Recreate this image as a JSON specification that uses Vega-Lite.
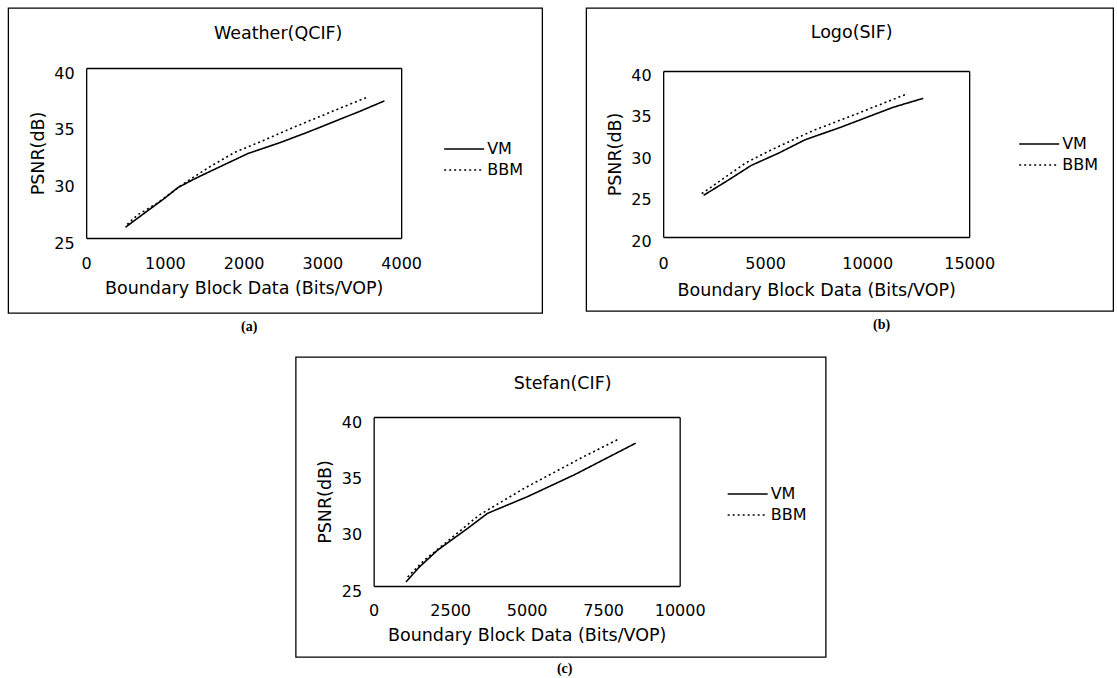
{
  "$schema": "https://vega.github.io/schema/vega-lite/v6.json",
  "background": "white",
  "padding": {"left": 7, "top": 7, "right": 0, "bottom": 0},
  "datasets": {
    "d": [
      {"p": "a", "s": "VM", "x": 499, "y": 25.95},
      {"p": "a", "s": "VM", "x": 741, "y": 27.2},
      {"p": "a", "s": "VM", "x": 995, "y": 28.5},
      {"p": "a", "s": "VM", "x": 1164, "y": 29.45},
      {"p": "a", "s": "VM", "x": 1400, "y": 30.3},
      {"p": "a", "s": "VM", "x": 1672, "y": 31.2},
      {"p": "a", "s": "VM", "x": 2053, "y": 32.45},
      {"p": "a", "s": "VM", "x": 2455, "y": 33.4},
      {"p": "a", "s": "VM", "x": 2800, "y": 34.3},
      {"p": "a", "s": "VM", "x": 3196, "y": 35.4},
      {"p": "a", "s": "VM", "x": 3500, "y": 36.25},
      {"p": "a", "s": "VM", "x": 3788, "y": 37.1},
      {"p": "a", "s": "BBM", "x": 521, "y": 26.2},
      {"p": "a", "s": "BBM", "x": 656, "y": 27.05},
      {"p": "a", "s": "BBM", "x": 910, "y": 28.1},
      {"p": "a", "s": "BBM", "x": 1228, "y": 29.75},
      {"p": "a", "s": "BBM", "x": 1550, "y": 31.2},
      {"p": "a", "s": "BBM", "x": 1884, "y": 32.55},
      {"p": "a", "s": "BBM", "x": 2250, "y": 33.6},
      {"p": "a", "s": "BBM", "x": 2646, "y": 34.8},
      {"p": "a", "s": "BBM", "x": 3100, "y": 36.1},
      {"p": "a", "s": "BBM", "x": 3577, "y": 37.45},
      {"p": "b", "s": "VM", "x": 1981, "y": 25.02},
      {"p": "b", "s": "VM", "x": 3151, "y": 26.79},
      {"p": "b", "s": "VM", "x": 4322, "y": 28.63},
      {"p": "b", "s": "VM", "x": 5672, "y": 30.12},
      {"p": "b", "s": "VM", "x": 6933, "y": 31.69},
      {"p": "b", "s": "VM", "x": 8733, "y": 33.25},
      {"p": "b", "s": "VM", "x": 11254, "y": 35.61},
      {"p": "b", "s": "VM", "x": 12749, "y": 36.71},
      {"p": "b", "s": "BBM", "x": 1891, "y": 25.22},
      {"p": "b", "s": "BBM", "x": 3000, "y": 27.13},
      {"p": "b", "s": "BBM", "x": 4052, "y": 28.94},
      {"p": "b", "s": "BBM", "x": 5312, "y": 30.51},
      {"p": "b", "s": "BBM", "x": 7383, "y": 32.86},
      {"p": "b", "s": "BBM", "x": 9274, "y": 34.63},
      {"p": "b", "s": "BBM", "x": 11885, "y": 37.18},
      {"p": "c", "s": "VM", "x": 1055, "y": 25.36},
      {"p": "c", "s": "VM", "x": 1500, "y": 26.7},
      {"p": "c", "s": "VM", "x": 2089, "y": 28.18},
      {"p": "c", "s": "VM", "x": 3068, "y": 30.11},
      {"p": "c", "s": "VM", "x": 3721, "y": 31.45},
      {"p": "c", "s": "VM", "x": 5027, "y": 32.93},
      {"p": "c", "s": "VM", "x": 6550, "y": 34.86},
      {"p": "c", "s": "VM", "x": 8563, "y": 37.68},
      {"p": "c", "s": "BBM", "x": 1110, "y": 25.8},
      {"p": "c", "s": "BBM", "x": 1654, "y": 27.29},
      {"p": "c", "s": "BBM", "x": 2524, "y": 29.22},
      {"p": "c", "s": "BBM", "x": 3449, "y": 31.3},
      {"p": "c", "s": "BBM", "x": 4918, "y": 33.67},
      {"p": "c", "s": "BBM", "x": 6877, "y": 36.5},
      {"p": "c", "s": "BBM", "x": 7965, "y": 37.98}
    ]
  },
  "vconcat": [
    {
      "hconcat": [
        {
          "title": {"text": "(a)", "orient": "bottom", "offset": 6, "dx": -26, "anchor": "middle", "font": "Liberation Serif", "fontSize": 14, "fontWeight": "bold", "color": "black"},
          "vconcat": [
            {
              "width": 534,
              "height": 305,
              "data": {"name": "d"},
              "transform": [{"filter": "datum.p === 'a'"}],
              "title": {"text": "Weather(QCIF)", "offset": -43, "baseline": "middle", "anchor": "middle", "dx": 3},
              "layer": [
                {
                  "mark": {"type": "line", "color": "black", "strokeWidth": 1.6},
                  "encoding": {
                    "x": {"field": "x", "type": "quantitative", "scale": {"domain": [0, 4000], "range": [78, 393], "nice": false, "zero": false},
                      "axis": {"orient": "bottom", "offset": -75, "values": [0, 1000, 2000, 3000, 4000], "format": "d", "labelPadding": 17, "title": "Boundary Block Data (Bits/VOP)", "titleY": 50, "titleBaseline": "middle"}},
                    "y": {"field": "y", "type": "quantitative", "scale": {"domain": [25, 40], "range": [230, 60], "nice": false, "zero": false},
                      "axis": {"orient": "left", "offset": -78, "values": [25, 30, 35, 40], "labelPadding": 12, "labelOffset": 5, "title": "PSNR(dB)", "titleX": -48, "titleBaseline": "middle"}},
                    "strokeDash": {"field": "s", "type": "nominal", "scale": {"domain": ["VM", "BBM"], "range": [[1, 0], [2, 3]]},
                      "legend": {"orient": "none", "legendX": 468, "legendY": 133}}
                  }
                },
                {
                  "mark": {"type": "point", "opacity": 0},
                  "encoding": {
                    "x": {"field": "x", "type": "quantitative", "axis": {"orient": "top", "offset": -60, "labels": false, "title": null}},
                    "y": {"field": "y", "type": "quantitative", "axis": {"orient": "right", "offset": -141, "labels": false, "title": null}}
                  }
                }
              ],
              "resolve": {"axis": {"x": "independent", "y": "independent"}}
            }
          ]
        },
        {
          "title": {"text": "(b)", "orient": "bottom", "offset": 6, "dx": 32, "anchor": "middle", "font": "Liberation Serif", "fontSize": 14, "fontWeight": "bold", "color": "black"},
          "vconcat": [
            {
              "width": 527,
              "height": 303,
              "data": {"name": "d"},
              "transform": [{"filter": "datum.p === 'b'"}],
              "title": {"text": "Logo(SIF)", "offset": -42, "baseline": "middle", "anchor": "middle", "dx": 2},
              "layer": [
                {
                  "mark": {"type": "line", "color": "black", "strokeWidth": 1.6},
                  "encoding": {
                    "x": {"field": "x", "type": "quantitative", "scale": {"domain": [0, 15000], "range": [77, 383], "nice": false, "zero": false},
                      "axis": {"orient": "bottom", "offset": -74, "values": [0, 5000, 10000, 15000], "format": "d", "labelPadding": 18, "title": "Boundary Block Data (Bits/VOP)", "titleY": 53, "titleBaseline": "middle"}},
                    "y": {"field": "y", "type": "quantitative", "scale": {"domain": [20, 40], "range": [229, 63], "nice": false, "zero": false},
                      "axis": {"orient": "left", "offset": -77, "values": [20, 25, 30, 35, 40], "labelPadding": 12, "labelOffset": 4, "title": "PSNR(dB)", "titleX": -48, "titleBaseline": "middle"}},
                    "strokeDash": {"field": "s", "type": "nominal", "scale": {"domain": ["VM", "BBM"], "range": [[1, 0], [2, 3]]},
                      "legend": {"orient": "none", "legendX": 465, "legendY": 128}}
                  }
                },
                {
                  "mark": {"type": "point", "opacity": 0},
                  "encoding": {
                    "x": {"field": "x", "type": "quantitative", "axis": {"orient": "top", "offset": -63, "labels": false, "title": null}},
                    "y": {"field": "y", "type": "quantitative", "axis": {"orient": "right", "offset": -144, "labels": false, "title": null}}
                  }
                }
              ],
              "resolve": {"axis": {"x": "independent", "y": "independent"}}
            }
          ]
        }
      ],
      "spacing": 42,
      "resolve": {"scale": {"strokeDash": "independent"}, "legend": {"strokeDash": "independent"}}
    },
    {
      "title": {"text": "(c)", "orient": "bottom", "offset": 4, "dx": 4, "anchor": "middle", "font": "Liberation Serif", "fontSize": 14, "fontWeight": "bold", "color": "black"},
      "vconcat": [
        {
          "width": 530,
          "height": 300,
          "data": {"name": "d"},
          "transform": [{"filter": "datum.p === 'c'"}],
          "title": {"text": "Stefan(CIF)", "offset": -44, "baseline": "middle", "anchor": "middle", "dx": 2},
          "layer": [
            {
              "mark": {"type": "line", "color": "black", "strokeWidth": 1.6},
              "encoding": {
                "x": {"field": "x", "type": "quantitative", "scale": {"domain": [0, 10000], "range": [78, 384], "nice": false, "zero": false},
                  "axis": {"orient": "bottom", "offset": -71, "values": [0, 2500, 5000, 7500, 10000], "format": "d", "labelPadding": 16, "title": "Boundary Block Data (Bits/VOP)", "titleY": 49, "titleBaseline": "middle"}},
                "y": {"field": "y", "type": "quantitative", "scale": {"domain": [25, 40], "range": [229, 60], "nice": false, "zero": false},
                  "axis": {"orient": "left", "offset": -78, "values": [25, 30, 35, 40], "labelPadding": 12, "labelOffset": 5, "title": "PSNR(dB)", "titleX": -48, "titleBaseline": "middle"}},
                "strokeDash": {"field": "s", "type": "nominal", "scale": {"domain": ["VM", "BBM"], "range": [[1, 0], [2, 3]]},
                  "legend": {"orient": "none", "legendX": 464, "legendY": 129}}
              }
            },
            {
              "mark": {"type": "point", "opacity": 0},
              "encoding": {
                "x": {"field": "x", "type": "quantitative", "axis": {"orient": "top", "offset": -60, "labels": false, "title": null}},
                "y": {"field": "y", "type": "quantitative", "axis": {"orient": "right", "offset": -146, "labels": false, "title": null}}
              }
            }
          ],
          "resolve": {"axis": {"x": "independent", "y": "independent"}}
        }
      ]
    }
  ],
  "spacing": 22,
  "center": true,
  "resolve": {"scale": {"strokeDash": "independent"}, "legend": {"strokeDash": "independent"}},
  "config": {
    "font": "DejaVu Sans",
    "view": {"stroke": "black", "strokeWidth": 1.3},
    "title": {"font": "DejaVu Sans", "fontSize": 17.5, "fontWeight": "normal", "color": "black"},
    "axis": {
      "grid": false,
      "ticks": false,
      "tickSize": 0,
      "domainColor": "black",
      "domainWidth": 1.3,
      "labelFont": "DejaVu Sans",
      "labelFontSize": 16,
      "labelColor": "black",
      "labelFlush": false,
      "labelOverlap": false,
      "titleFont": "DejaVu Sans",
      "titleFontSize": 17.5,
      "titleFontWeight": "normal",
      "titleColor": "black"
    },
    "legend": {
      "title": null,
      "symbolType": "M-8,0H0",
      "symbolSize": 100,
      "symbolStrokeWidth": 1.6,
      "symbolStrokeColor": "black",
      "symbolFillColor": "transparent",
      "labelFont": "DejaVu Sans",
      "labelFontSize": 16,
      "labelColor": "black",
      "labelOffset": -5,
      "rowPadding": 5,
      "padding": 0
    }
  }
}
